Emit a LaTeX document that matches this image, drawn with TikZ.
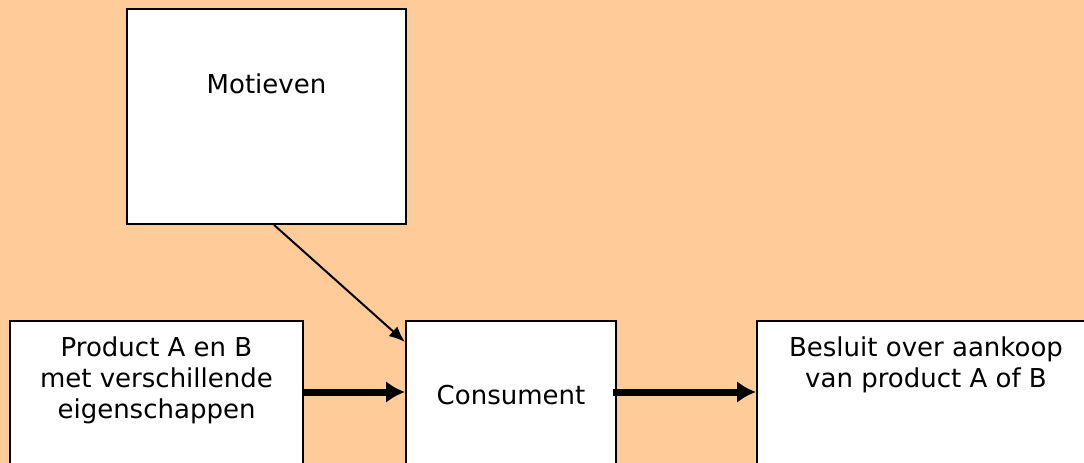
\documentclass[tikz,border=0pt]{standalone}
\usepackage{fontspec}
\setmainfont{DejaVu Sans}
\usetikzlibrary{calc,arrows.meta}
\definecolor{peach}{RGB}{255,204,153}

\begin{document}
\begin{tikzpicture}[x=1pt, y=-1pt,
  box/.style={draw=black, fill=white, line width=2pt, inner sep=0pt},
  txt/.style={font=\fontsize{26}{31}\selectfont, align=center, inner sep=0pt},
  thinarrow/.style={-{Latex[length=16pt,width=13pt]}, line width=2pt},
  thickarrow/.style={-{Latex[length=19pt,width=22pt]}, line width=7pt}]

% Background
\fill[peach] (0,0) rectangle (1084,463);
\useasboundingbox (0,0) rectangle (1084,463);
\clip (0,0) rectangle (1084,463);

%
% Motieven top
%
\node[box, minimum width=279pt, minimum height=215pt] (mot) at (266.5,116.5) {};
\node[txt, anchor=base] (motT) at (266.5,93) {Motieven};

%
% Row of boxes
%

% Product box
\node[box, minimum width=293pt, minimum height=180pt] (prod) at (156.5,411) {};
\node[txt, anchor=north] (prodT) at (156.5,337) {Product A en B\\met verschillende\\eigenschappen};

% Consument box
\node[box, minimum width=210pt, minimum height=180pt] (cons) at (511,411) {};
\node[txt, anchor=base] (consT) at (511,404) {Consument};

% Besluit box
\node[box, minimum width=338pt, minimum height=180pt] (bes) at (926,411) {};
\node[txt, anchor=north] (besT) at (926,337) {Besluit over aankoop\\van product A of B};

%
% Arrows
%
\draw[thinarrow] (mot.-86) -- ($(cons.north west)+(0,22)$);

\draw[thickarrow] ($(prod.north east)+(0,72)$) -- ($(cons.north west)+(0,72)$);

\draw[thickarrow] ($(cons.north east)+(-4,72)$) -- ($(bes.north west)+(0,72)$);

\end{tikzpicture}
\end{document}
